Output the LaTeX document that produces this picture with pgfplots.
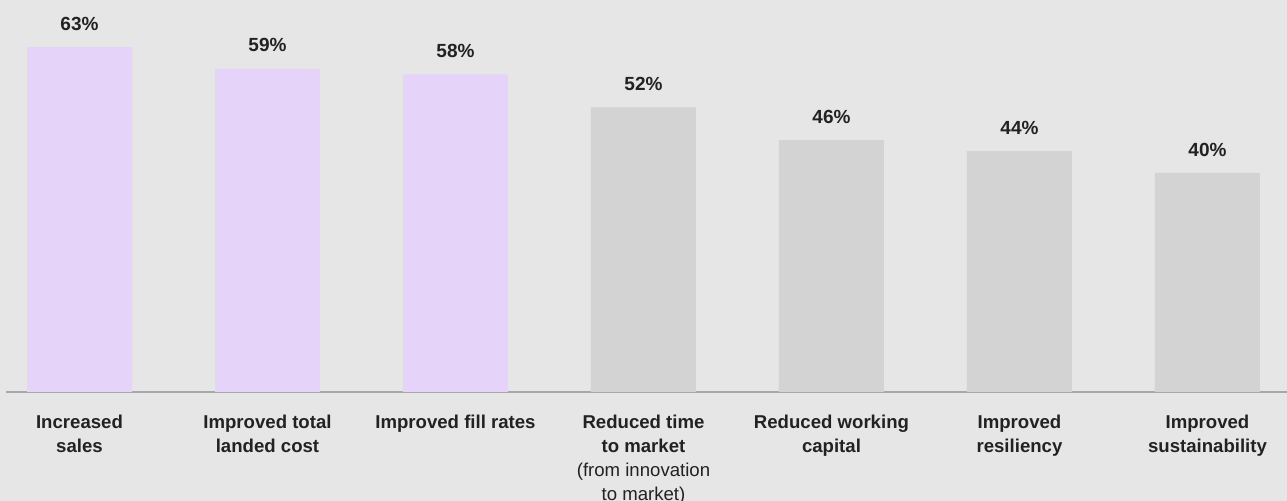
\documentclass[border=0pt]{standalone}
\usepackage{pgfplots}
\pgfplotsset{compat=1.18}
\usepackage{fontspec}
\setmainfont{Liberation Sans}
\definecolor{bg}{HTML}{E6E6E6}
\definecolor{purp}{HTML}{E6D3F9}
\definecolor{gbar}{HTML}{D3D3D3}
\definecolor{axl}{HTML}{A8A8A8}
\definecolor{txt}{HTML}{222222}
\begin{document}
\begin{tikzpicture}
\path[use as bounding box, fill=bg] (0,-54.5pt) rectangle (643.5pt,196pt);
\begin{axis}[
 at={(3pt,0pt)}, anchor=south west, scale only axis,
 width=640.5pt, height=196pt,
 xmin=-0.391, xmax=6.423, ymin=0, ymax=71.6,
 ybar, bar width=0.5585, bar shift=0pt,
 axis y line=none, axis x line=bottom,
 x axis line style={-, draw=axl, line width=1.4pt},
 xtick={0,...,6},
 xticklabels={
  {\textbf{Increased}\\\textbf{sales}},
  {\textbf{Improved total}\\\textbf{landed cost}},
  {\textbf{Improved fill rates}},
  {\textbf{Reduced time}\\\textbf{to market}\\(from innovation\\to market)},
  {\textbf{Reduced working}\\\textbf{capital}},
  {\textbf{Improved}\\\textbf{resiliency}},
  {\textbf{Improved}\\\textbf{sustainability}}},
 major tick length=0pt,
 xticklabel style={anchor=north, inner sep=0pt, yshift=-11.5pt, align=center, font=\fontsize{9.3}{12}\selectfont, text=txt},
 /pgf/number format/assume math mode=true,
 point meta=y,
 nodes near coords={\pgfmathprintnumber{\pgfplotspointmeta}\%},
 every node near coord/.append style={anchor=south, inner sep=0pt, yshift=8.2pt, font=\fontsize{9.5}{12}\selectfont\bfseries, text=txt},
 clip=false,
]
\addplot[fill=purp, draw=none] coordinates {(0,63) (1,59) (2,58)};
\addplot[fill=gbar, draw=none] coordinates {(3,52) (4,46) (5,44) (6,40)};
\end{axis}
\end{tikzpicture}
\end{document}
